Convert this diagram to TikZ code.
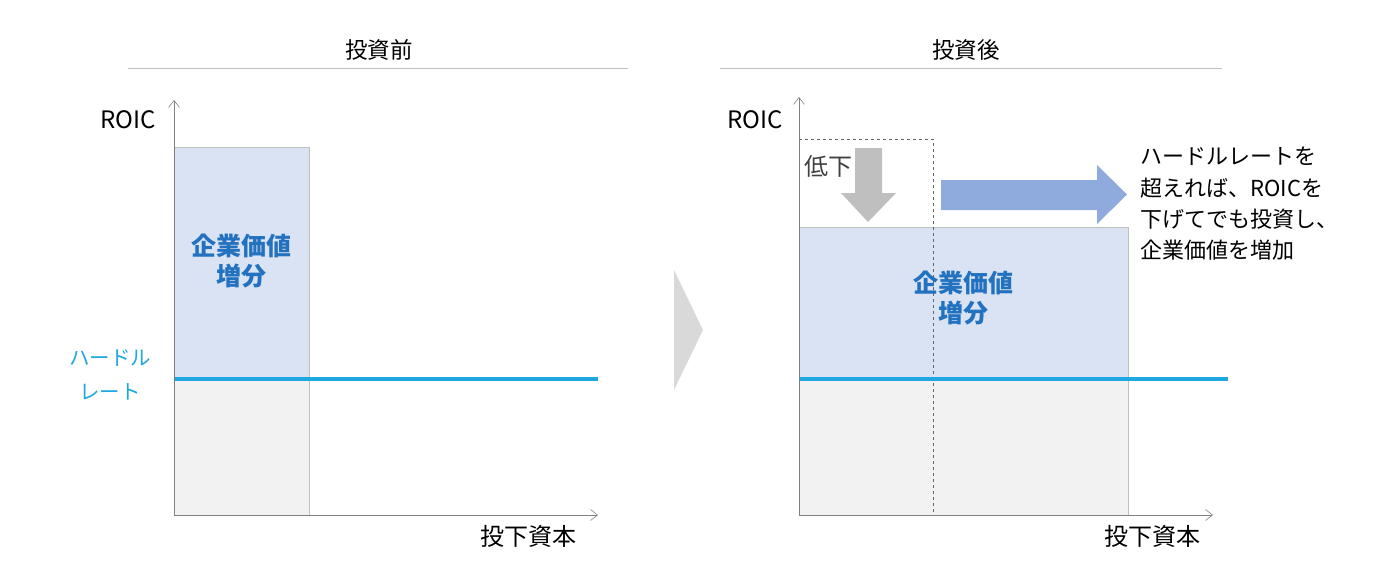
\documentclass[tikz,border=0pt]{standalone}
\usepackage{fontspec}
\setmainfont{Noto Sans CJK JP}
\usetikzlibrary{arrows.meta}
\definecolor{valueblue}{HTML}{DAE3F3}
\definecolor{basegrey}{HTML}{F2F2F2}
\definecolor{hurdlecyan}{HTML}{1FA8E0}
\definecolor{labelblue}{HTML}{2272C0}
\definecolor{pushblue}{HTML}{8FAADC}

\begin{document}
\begin{tikzpicture}[%
      x=1pt, y=-1pt,
      >={Straight Barb[length=7pt,width=11pt]},
      axis/.style={color=gray, line width=0.6pt, ->},
      edge/.style={color=black!25, line width=0.8pt},
      rule/.style={color=black!25, line width=0.8pt},
      hurdle/.style={color=hurdlecyan, line width=4pt},
      guide/.style={color=black!60, line width=0.6pt, dashed},
      heading/.style={font=\fontsize{22.5}{27}\selectfont},
      axislabel/.style={font=\fontsize{24}{28}\selectfont},
      gain/.style={font=\bfseries\fontsize{25}{30}\selectfont, color=labelblue, align=center},
      ]
      \useasboundingbox (0,0) rectangle (1386,570);

      \node [heading] (titleBefore) at (379,50) {投資前};
      \draw [rule] (128,68) -- (628,68);
      \node [heading] (titleAfter) at (966,50) {投資後};
      \draw [rule] (720,68) -- (1222,68);

      \filldraw [fill=black!15, draw=none] (674,270) -- (703,330) -- (674,390) -- cycle;

      \fill [valueblue] (174,147) rectangle (309,379);
      \fill [basegrey] (174,379) rectangle (309,515);
      \draw [edge] (174,147) -- (309,147) -- (309,515);
      \draw [hurdle] (174,379) -- (598,379);
      \draw [axis] (174,515) -- (598,515);
      \draw [axis] (174,515) -- (174,100);

      \node [axislabel] (roicBefore) at (128,120) {ROIC};
      \node [axislabel] (capitalBefore) at (528,536) {投下資本};
      \node [gain] (gainBefore) at (241,261) {企業価値\\増分};
      \node [font=\fontsize{20.5}{34}\selectfont, color=hurdlecyan, align=center] (hurdleLabel) at (110,375) {ハードル\\レート};

      \fill [valueblue] (799,227) rectangle (1128,379);
      \fill [basegrey] (799,379) rectangle (1128,515);
      \draw [edge] (799,227) -- (1128,227) -- (1128,515);
      \draw [guide] (799,139) -- (933,139) -- (933,515);
      \draw [hurdle] (799,379) -- (1228,379);
      \draw [axis] (799,515) -- (1213,515);
      \draw [axis] (799,515) -- (799,97);

      \node [axislabel] (roicAfter) at (755,120) {ROIC};
      \node [axislabel] (capitalAfter) at (1152,536) {投下資本};
      \node [gain] (gainAfter) at (963,298) {企業価値\\増分};

      \fill [color=black!25] (855,148) -- (882,148) -- (882,193) -- (896,193) -- (868,222) -- (841,193) -- (855,193) -- cycle;
      \node [font=\fontsize{24}{28}\selectfont, color=black!75] (dropLabel) at (828,166) {低下};

      \fill [color=pushblue] (941,180) -- (1097,180) -- (1097,165) -- (1127,194.5) -- (1097,224) -- (1097,210) -- (941,210) -- cycle;
      \node [anchor=west, align=left, font=\fontsize{22}{31.3}\selectfont] (note) at (1137,204) {ハードルレートを\\超えれば、ROICを\\下げてでも投資し、\\企業価値を増加};
      \end{tikzpicture}
\end{document}
